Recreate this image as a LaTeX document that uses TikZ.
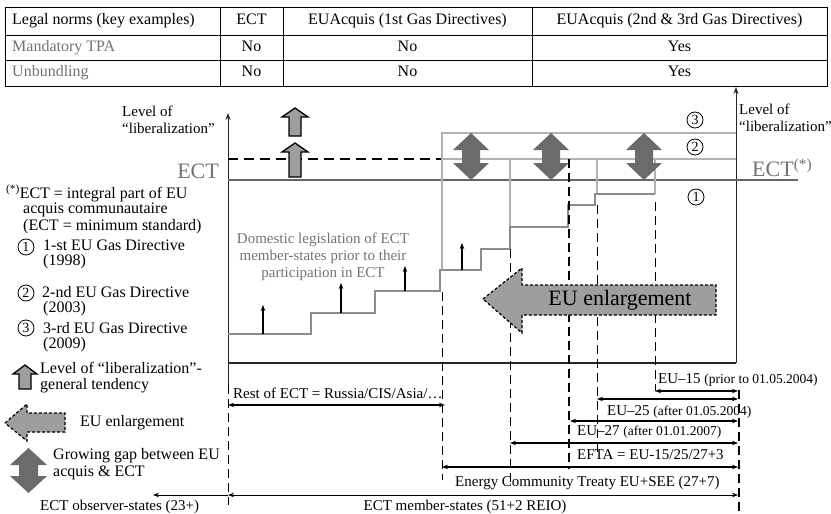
\documentclass[tikz,border=0pt]{standalone}
\usepackage{fontspec}
\setmainfont{Liberation Serif}
\usetikzlibrary{arrows.meta,positioning,calc}

\definecolor{stairgray}{gray}{0.55}
\definecolor{levelgray}{gray}{0.70}
\definecolor{ectgray}{gray}{0.40}
\definecolor{gapfill}{gray}{0.42}
\definecolor{enlfill}{gray}{0.62}
\definecolor{txtgray}{gray}{0.45}
\newcommand{\parsize}{\fontsize{13.5}{15}\selectfont}

\begin{document}
\begin{tikzpicture}[x=1pt, y=-1pt,
    tab/.style={font=\fontsize{16}{18}\selectfont, inner sep=0pt, text height=11pt, text depth=3.5pt},
    lbl/.style={font=\fontsize{15}{17}\selectfont, inner sep=0pt},
    leg/.style={font=\fontsize{16}{18}\selectfont, inner sep=0pt, anchor=west},
    big/.style={font=\fontsize{22}{24}\selectfont, inner sep=0pt, text=txtgray},
    num/.style={draw, circle, minimum size=16pt, inner sep=0pt, line width=0.8pt, font=\fontsize{14}{14}\selectfont},
    span/.style={{Stealth[length=6pt, width=4.5pt]}-{Stealth[length=6pt, width=4.5pt]}, line width=1.1pt},
    bar/.style={dash pattern=on 9pt off 5pt, line width=0.9pt},
    stair/.style={stairgray, line width=2.2pt},
    level/.style={levelgray, line width=1.8pt},
    gap/.style={fill=gapfill, draw=none},
    lift/.style={fill=enlfill, draw=black, line width=1.3pt},
    enl/.style={fill=enlfill, draw=black, dash pattern=on 3pt off 2pt, line width=1.2pt}
]
\useasboundingbox (0,0) rectangle (831,514);

% table
\draw[line width=0.8pt] (5,7) rectangle (827,86);
\draw[line width=0.8pt] (5,35) -- (827,35) (5,60) -- (827,60);
\foreach \cx in {220,283,532}
  \draw[line width=0.8pt] (\cx,7) -- (\cx,86);
\node[tab, anchor=west] (hnorm) at (12,21) {Legal norms (key examples)};
\node[tab] (hect) at (251.5,21) {ECT};
\node[tab] (hfirst) at (407.5,21) {EUAcquis (1st Gas Directives)};
\node[tab] (hsecond) at (679.5,21) {EUAcquis (2nd \& 3rd Gas Directives)};
\node[tab, anchor=west, text=txtgray] (rtpa) at (12,47.5) {Mandatory TPA};
\node[tab] (tpaect) at (251.5,47.5) {No};
\node[tab] (tpafirst) at (407.5,47.5) {No};
\node[tab] (tpasecond) at (679.5,47.5) {Yes};
\node[tab, anchor=west, text=txtgray] (runb) at (12,73) {Unbundling};
\node[tab] (unbect) at (251.5,73) {No};
\node[tab] (unbfirst) at (407.5,73) {No};
\node[tab] (unbsecond) at (679.5,73) {Yes};

% axes
\draw[black!85, line width=0.9pt, -{Stealth[length=7pt, width=5pt]}] (228,385) -- (228,113);
\draw[black!85, line width=0.9pt, -{Stealth[length=7pt, width=5pt]}] (736,363) -- (736,87);
\draw[bar] (228,385) -- (228,505);
\draw[bar, line width=1.6pt] (739,390) -- (739,514);
\draw[black!85, line width=1.3pt] (228,363) -- (736,363);
\node[lbl, align=left, anchor=west] (lvlleft) at (122,120) {Level of\\``liberalization''};
\node[lbl, align=left, anchor=west] (lvlright) at (739,118) {Level of\\``liberalization''};

% levels
\draw[ectgray, line width=1.5pt] (228,180) -- (798,180);
\draw[dash pattern=on 10pt off 6pt, line width=1.3pt] (228,159) -- (442,159);
\draw[level] (442,270) -- (442,133) -- (736,133);
\draw[level] (442,159) -- (736,159);
\foreach \lx/\ly in {510/227, 597/194, 655/194}
  \draw[level] (\lx,159) -- (\lx,\ly);
\draw[stair] (228,334) -| (311,313) -| (375,291) -| (440,270) -| (481,249)
  -| (510,227) -| (568,205) -| (595,194) -- (655,194);

% dashed borders
\draw[bar] (442,292) -- (442,480);
\draw[bar] (510,249) -- (510,487);
\draw[bar, line width=1.7pt] (569,159) -- (569,469);
\draw[bar] (597,205) -- (597,452);
\draw[bar] (655,202) -- (655,391);

% small arrows on the stair
\foreach \ax/\yb/\yt in {263/334/305, 341/313/283, 405/291/266, 462/270/243}
  \draw[-{Stealth[length=6pt, width=4.5pt]}, line width=1.2pt] (\ax,\yb) -- (\ax,\yt);

\node[lbl, text=txtgray, align=center] (domestic) at (323,257)
  {Domestic legislation of ECT\\member-states prior to their\\participation in ECT};

% gap arrows
\foreach \cx in {471,551,644}
  \fill[gap] (\cx,133) -- (\cx+18,150) -- (\cx+9,150) -- (\cx+9,163) -- (\cx+18,163)
    -- (\cx,180) -- (\cx-18,163) -- (\cx-9,163) -- (\cx-9,150) -- (\cx-18,150) -- cycle;

% lift arrows
\foreach \yb/\yt in {136/108, 177/143}
  \draw[lift] (289,\yb) -- (301,\yb) -- (301,\yt+9) -- (308,\yt+9) -- (295,\yt)
    -- (282,\yt+9) -- (289,\yt+9) -- cycle;

\node[big, anchor=east] (ectleft) at (219,171) {ECT};
\node[big, anchor=west] (ectright) at (752,168) {ECT\textsuperscript{(*)}};
\node[num] (dirthree) at (695,120) {3};
\node[num] (dirtwo) at (695,147) {2};
\node[num] (dirone) at (696,197) {1};

% EU enlargement
\draw[enl] (483,299) -- (522,268) -- (522,285) -- (716,285) -- (716,315)
  -- (522,315) -- (522,333) -- cycle;
\node[font=\fontsize{22}{24}\selectfont, inner sep=0pt] (enlarge) at (620,300) {EU enlargement};

% spans
\draw[span] (228,405) -- (445,405);
\node[lbl, anchor=west] (rest) at (233,393) {Rest of ECT = Russia/CIS/Asia/\dots};
\draw[span] (655,391) -- (738,391);
\node[lbl, anchor=west] (eufifteen) at (658,380) {EU--15 {\parsize(prior to 01.05.2004)}};
\draw[span] (597,399) -- (738,399);
\node[lbl, anchor=west] (eutwentyfive) at (607,412) {EU--25 {\parsize(after 01.05.2004)}};
\draw[span] (570,421) -- (738,421);
\node[lbl, anchor=west] (eutwentyseven) at (577,432) {EU--27 {\parsize(after 01.01.2007)}};
\draw[span, line width=1.8pt] (510,443) -- (738,443);
\node[lbl, anchor=west] (efta) at (577,455) {EFTA = EU-15/25/27+3};
\draw[span, line width=1.8pt] (442,467) -- (738,467);
\node[lbl, anchor=west] (energy) at (455,483) {Energy Community Treaty EU+SEE (27+7)};
\draw[span, line width=0.9pt] (228,495) -- (738,495);
\node[lbl] (members) at (465,507) {ECT member-states (51+2 REIO)};
\draw[-{Stealth[length=6pt, width=4.5pt]}, line width=0.9pt] (228,495) -- (153,495);
\node[lbl, anchor=west] (observers) at (40,507) {ECT observer-states (23+)};

% legend
\node[leg] (legstar) at (6,193) {\textsuperscript{(*)}ECT = integral part of EU};
\node[leg] (legacquis) at (23,210) {acquis communautaire};
\node[leg] (legmin) at (23,227) {(ECT = minimum standard)};
\node[num] (legone) at (26,247) {1};
\node[leg] (legfirst) at (43,245) {1-st EU Gas Directive};
\node[leg] (legfirstyr) at (43,262) {(1998)};
\node[num] (legtwo) at (26,293) {2};
\node[leg] (legsecond) at (42,292) {2-nd EU Gas Directive};
\node[leg] (legsecondyr) at (43,309) {(2003)};
\node[num] (legthree) at (26,328) {3};
\node[leg] (legthird) at (43,328) {3-rd EU Gas Directive};
\node[leg] (legthirdyr) at (43,345) {(2009)};
\draw[lift] (19,389) -- (31,389) -- (31,374) -- (37,374) -- (25,365) -- (13,374)
  -- (19,374) -- cycle;
\node[leg] (leglift) at (40,368) {Level of ``liberalization''-};
\node[leg] (leglifttwo) at (40,386) {general tendency};
\draw[enl] (5,423) -- (27,404) -- (27,413) -- (65,413) -- (65,432) -- (27,432)
  -- (27,441) -- cycle;
\node[leg] (legenl) at (80,423) {EU enlargement};
\fill[gap] (28.5,448) -- (47,465) -- (38,465) -- (38,476) -- (47,476) -- (28.5,493)
  -- (10,476) -- (19,476) -- (19,465) -- (10,465) -- cycle;
\node[leg] (leggap) at (53,456) {Growing gap between EU};
\node[leg] (leggaptwo) at (53,473) {acquis \& ECT};
\end{tikzpicture}
\end{document}
